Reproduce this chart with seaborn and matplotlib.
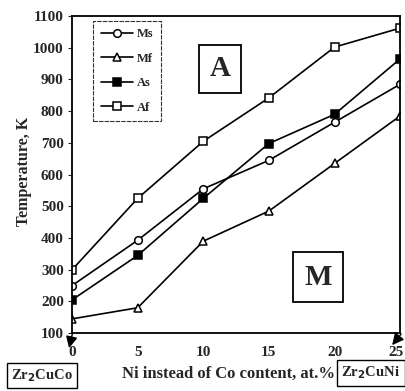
import matplotlib
matplotlib.use("Agg")
import matplotlib.pyplot as plt
import matplotlib.transforms as mtransforms
import seaborn as sns
import pandas as pd

ni_content = [0, 5, 10, 15, 20, 25]
ms = [250, 393, 555, 645, 765, 885]
mf = [145, 180, 390, 485, 635, 785]
as_ = [205, 345, 525, 698, 790, 965]
af = [300, 525, 705, 842, 1002, 1062]
series_names = ["Ms", "Mf", "As", "Af"]
x_ticks = [0, 5, 10, 15, 20, 25]
y_ticks = [100, 200, 300, 400, 500, 600, 700, 800, 900, 1000, 1100]

sns.set_style("white")
plt.rcParams["font.family"] = ["Liberation Serif", "DejaVu Serif"]
plt.rcParams["font.weight"] = "bold"

fig = plt.figure(figsize=(4.05, 3.91), dpi=100)
ax = fig.add_axes([0.178, 0.148, 0.810, 0.811])

values = {"Ms": ms, "Mf": mf, "As": as_, "Af": af}
styles = {
    "Ms": dict(marker="o", markerfacecolor="white"),
    "Mf": dict(marker="^", markerfacecolor="white"),
    "As": dict(marker="s", markerfacecolor="black"),
    "Af": dict(marker="s", markerfacecolor="white"),
}
for name in series_names:
    df = pd.DataFrame({"x": ni_content, "y": values[name]})
    sns.lineplot(data=df, x="x", y="y", ax=ax, color="black", linewidth=1.2,
                 markersize=5.5, markeredgecolor="black", markeredgewidth=1.1,
                 label=name, **styles[name])

ax.set_xlim(0, 25)
ax.set_ylim(100, 1100)
ax.set_xticks(x_ticks)
ax.set_yticks(y_ticks)
ax.tick_params(axis="x", direction="in", length=3, labelsize=11, pad=9)
ax.tick_params(axis="y", direction="out", length=3, labelsize=11, pad=3, left=True)
for lbl in ax.get_xticklabels() + ax.get_yticklabels():
    lbl.set_fontweight("bold")
# keep the last x tick label inside the figure
last = ax.get_xticklabels()[-1]
last.set_transform(last.get_transform() + mtransforms.ScaledTranslation(-4 / 100, 0, fig.dpi_scale_trans))
for sp in ax.spines.values():
    sp.set_color("black")
    sp.set_linewidth(1.3)

ax.set_xlabel("Ni instead of Co content, at.%", fontsize=12, fontweight="bold")
ax.xaxis.set_label_coords(0.476, -0.104)
ax.set_ylabel("Temperature, K", fontsize=11.5, fontweight="bold")
ax.yaxis.set_label_coords(-0.122, 0.51)

leg = ax.legend(loc="upper left", bbox_to_anchor=(0.065, 0.985), fontsize=9,
                frameon=True, fancybox=False, edgecolor="black", handlelength=2.6,
                labelspacing=1.0, borderpad=0.6, handletextpad=0.3, borderaxespad=0)
leg.get_frame().set_linewidth(0.8)
leg.get_frame().set_linestyle((0, (4, 1)))
for t in leg.get_texts():
    t.set_fontweight("bold")

ax.text(0.451, 0.833, "A", transform=ax.transAxes, fontsize=21, fontweight="bold",
        ha="center", va="center",
        bbox=dict(boxstyle="square,pad=0.35", fc="white", ec="black", lw=1.3))
ax.text(0.75, 0.177, "M", transform=ax.transAxes, fontsize=21, fontweight="bold",
        ha="center", va="center",
        bbox=dict(boxstyle="square,pad=0.38", fc="white", ec="black", lw=1.3))

fig.text(0.104, 0.040, "Zr$_2$CuCo", fontsize=10.5, fontweight="bold", ha="center", va="center",
         bbox=dict(boxstyle="square,pad=0.3", fc="white", ec="black", lw=1.0))
fig.text(0.916, 0.046, "Zr$_2$CuNi", fontsize=10.5, fontweight="bold", ha="center", va="center",
         bbox=dict(boxstyle="square,pad=0.3", fc="white", ec="black", lw=1.0))

arrow = dict(arrowstyle="-|>,head_length=0.7,head_width=0.35", color="black", lw=1.0,
             shrinkA=0, shrinkB=0)
left_tip = mtransforms.offset_copy(ax.transData, fig=fig, x=-3, y=-15, units="dots")
ax.annotate("", xy=(0, 100), xycoords=left_tip, xytext=(2.5, 11), textcoords="offset points",
            annotation_clip=False, arrowprops=arrow)
right_tip = mtransforms.offset_copy(ax.transData, fig=fig, x=-8, y=-12, units="dots")
ax.annotate("", xy=(25, 100), xycoords=right_tip, xytext=(6.5, 8), textcoords="offset points",
            annotation_clip=False, arrowprops=arrow)

fig.savefig("out.png", dpi=100)
